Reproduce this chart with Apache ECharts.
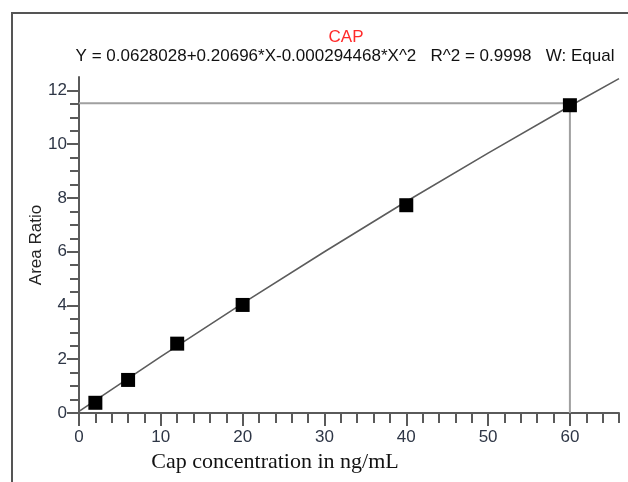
<!DOCTYPE html>
<html>
<head>
<meta charset="utf-8">
<script src="https://cdn.jsdelivr.net/npm/echarts@6/dist/echarts.min.js"></script>
<style>
  html, body { margin: 0; padding: 0; background: #fff; }
  #chart { width: 628px; height: 482px; }
</style>
</head>
<body>
<div id="chart"></div>
<script>
// calibration standards (ng/mL) and measured area ratios
const conc = [2, 6, 12, 20, 40, 60];
const ratio = [0.38, 1.23, 2.58, 4.02, 7.73, 11.45];

// fitted curve
const fitX = [0, 10, 20, 30, 40, 50, 60, 66];
const fitY = [0.06, 2.10, 4.08, 6.00, 7.87, 9.67, 11.42, 12.44];

// reference (drop) lines at the top standard
const refX = 60;
const refY = 11.52;

// tick values
const xMajor = [0, 10, 20, 30, 40, 50, 60];
const xMinor = [2, 4, 6, 8, 12, 14, 16, 18, 22, 24, 26, 28, 32, 34, 36, 38, 42, 44, 46, 48, 52, 54, 56, 58, 62, 64, 66];
const yMajor = [0, 2, 4, 6, 8, 10, 12];
const yMinor = [0.5, 1, 1.5, 2.5, 3, 3.5, 4.5, 5, 5.5, 6.5, 7, 7.5, 8.5, 9, 9.5, 10.5, 11, 11.5];

const chart = echarts.init(document.getElementById('chart'));

const axisColor = '#5a5a5a';
const labelColor = '#2e3646';

let option = {
  animation: false,
  backgroundColor: '#fff',
  title: [
    {
      text: 'CAP',
      left: 341,
      top: 24,
      textAlign: 'center',
      textStyle: { color: '#ff2a2a', fontSize: 17, fontWeight: 'normal', fontFamily: 'Liberation Sans' }
    },
    {
      text: 'Y = 0.0628028+0.20696*X-0.000294468*X^2   R^2 = 0.9998   W: Equal',
      left: 340,
      top: 43,
      textAlign: 'center',
      textStyle: { color: '#111', fontSize: 17, fontWeight: 'normal', fontFamily: 'Liberation Sans' }
    }
  ],
  graphic: [
    { // frame
      type: 'polyline',
      shape: { points: [[12, 482], [12, 13], [628, 13]] },
      style: { stroke: '#555', lineWidth: 2, fill: null }
    }
  ],
  grid: { left: 79, right: 9, top: 77, bottom: 69 },
  xAxis: [
    {
      type: 'value',
      min: 0,
      max: 66,
      interval: 10,
      name: 'Cap concentration in ng/mL',
      nameLocation: 'middle',
      nameGap: 38,
      nameMoveOverlap: false,
      nameTextStyle: { color: '#111', fontSize: 22, fontFamily: 'Liberation Serif', padding: [0, 148, 0, 0] },
      axisLine: { show: true, lineStyle: { color: axisColor, width: 2 } },
      axisTick: { show: true, customValues: xMajor, length: 13, lineStyle: { color: axisColor, width: 2 } },
      axisLabel: { customValues: xMajor, margin: 16, color: labelColor, fontSize: 17, fontFamily: 'Liberation Sans' },
      splitLine: { show: false }
    },
    {
      type: 'value',
      min: 0,
      max: 66,
      position: 'bottom',
      offset: 0,
      axisLine: { show: false },
      axisTick: { show: true, customValues: xMinor, length: 10, lineStyle: { color: axisColor, width: 2 } },
      axisLabel: { show: false },
      splitLine: { show: false }
    }
  ],
  yAxis: [
    {
      type: 'value',
      min: 0,
      max: 12.5,
      interval: 2,
      name: 'Area Ratio',
      nameLocation: 'middle',
      nameGap: 34,
      nameMoveOverlap: false,
      nameTextStyle: { color: '#222', fontSize: 17, fontFamily: 'Liberation Sans' },
      axisLine: { show: true, lineStyle: { color: axisColor, width: 2 } },
      axisTick: { show: true, customValues: yMajor, length: 12, lineStyle: { color: axisColor, width: 2 } },
      axisLabel: { customValues: yMajor, margin: 12, color: labelColor, fontSize: 17, fontFamily: 'Liberation Sans' },
      splitLine: { show: false }
    },
    {
      type: 'value',
      min: 0,
      max: 12.5,
      position: 'left',
      offset: 0,
      axisLine: { show: false },
      axisTick: { show: true, customValues: yMinor, length: 9, lineStyle: { color: axisColor, width: 2 } },
      axisLabel: { show: false },
      splitLine: { show: false }
    }
  ],
  series: [
    {
      name: 'ref',
      type: 'line',
      data: [[0, refY], [refX, refY], [refX, 0]],
      symbol: 'none',
      lineStyle: { color: '#a0a0a0', width: 2 },
      z: 1
    },
    {
      name: 'fit',
      type: 'line',
      data: fitX.map((x, i) => [x, fitY[i]]),
      symbol: 'none',
      smooth: false,
      lineStyle: { color: '#5c5c5c', width: 1.6 },
      z: 2
    },
    {
      name: 'standards',
      type: 'scatter',
      data: conc.map((x, i) => [x, ratio[i]]),
      symbol: 'rect',
      symbolSize: 14,
      itemStyle: { color: '#000', opacity: 1 },
      z: 3
    }
  ]
};

chart.setOption(option);
</script>
</body>
</html>
